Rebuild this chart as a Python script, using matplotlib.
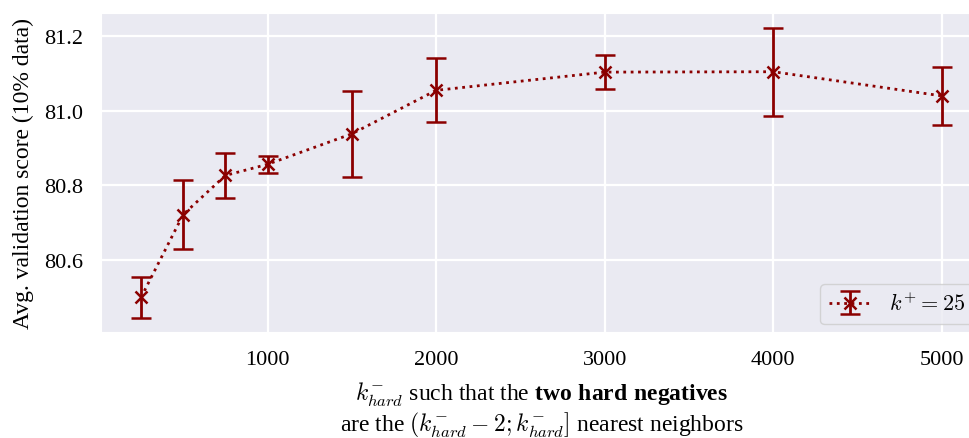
import matplotlib
matplotlib.use("Agg")
import matplotlib.pyplot as plt
import seaborn as sns
import numpy as np

# hard negative rank and validation scores (mean +- std over runs)
k_hard = [250, 500, 750, 1000, 1500, 2000, 3000, 4000, 5000]
score_mean = [80.498, 80.721, 80.826, 80.856, 80.938, 81.055, 81.104, 81.105, 81.040]
score_std = [0.054, 0.092, 0.061, 0.022, 0.115, 0.086, 0.045, 0.119, 0.079]
series_label = r"$k^{+}=25$"

sns.set_style("darkgrid")
plt.rcParams['font.family'] = ['Liberation Serif', 'DejaVu Serif']
plt.rcParams['mathtext.fontset'] = 'custom'
plt.rcParams['mathtext.rm'] = 'cmr10'
plt.rcParams['mathtext.it'] = 'cmmi10'
plt.rcParams['mathtext.bf'] = 'Liberation Serif:bold'
plt.rcParams['text.color'] = 'black'
plt.rcParams['axes.labelcolor'] = 'black'
plt.rcParams['xtick.color'] = 'black'
plt.rcParams['ytick.color'] = 'black'

fig = plt.figure(figsize=(9.7, 4.39), dpi=100)
ax = fig.add_axes([101 / 970, 106 / 439, 881 / 970, 319 / 439])
ax.grid(True, color='white', lw=1.6)

ax.errorbar(k_hard, score_mean, yerr=score_std, fmt='x:', color='darkred',
            lw=2, markersize=9, markeredgewidth=1.8,
            elinewidth=2, capsize=7.5, capthick=2, label=series_label)

ax.set_xticks([1000, 2000, 3000, 4000, 5000])
ax.set_yticks([80.6, 80.8, 81.0, 81.2])
ax.tick_params(axis='both', labelsize=16, pad=13, length=0)

ax.set_ylabel("Avg. validation score (10% data)", fontsize=17, labelpad=7)
ax.set_xlabel(r"$k^{-}_{hard}$ such that the $\mathbf{two\ hard\ negatives}$" "\n"
              r"are the $(k^{-}_{hard}-2;k^{-}_{hard}]$ nearest neighbors",
              fontsize=17, labelpad=8, linespacing=1.1)

ax.legend(loc='lower right', fontsize=16, handlelength=1.9, borderaxespad=0.35)

fig.savefig("out.png", dpi=100)
